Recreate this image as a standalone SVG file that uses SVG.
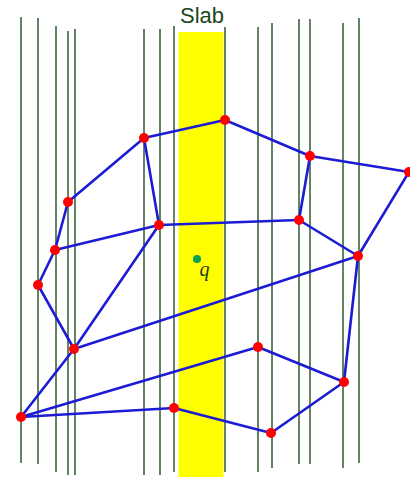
<svg xmlns="http://www.w3.org/2000/svg" width="410" height="477" viewBox="0 0 410 477">
<style>
.v{stroke:#2f5a2f;stroke-width:1.5}
.e{stroke:#1c1cd4;stroke-width:2.6;stroke-linecap:round}
.p{fill:#ff0000}
</style>
<rect width="410" height="477" fill="#ffffff"/>
<rect id="slab" x="178.5" y="32" width="45" height="445" fill="#ffff00"/>
<text x="180" y="23" font-family="Liberation Sans, Arial, sans-serif" font-size="22" fill="#1a461a">Slab</text>
<g id="lines">
<line class="v" x1="21" y1="17" x2="21" y2="463"/>
<line class="v" x1="38" y1="18" x2="38" y2="464"/>
<line class="v" x1="56" y1="26" x2="56" y2="472"/>
<line class="v" x1="68" y1="31" x2="68" y2="475"/>
<line class="v" x1="75" y1="29" x2="75" y2="475"/>
<line class="v" x1="144" y1="29" x2="144" y2="475"/>
<line class="v" x1="160" y1="29" x2="160" y2="475"/>
<line class="v" x1="174" y1="26" x2="174" y2="472"/>
<line class="v" x1="225" y1="27" x2="225" y2="472"/>
<line class="v" x1="258" y1="27" x2="258" y2="472"/>
<line class="v" x1="272" y1="23" x2="272" y2="468"/>
<line class="v" x1="299" y1="19" x2="299" y2="464"/>
<line class="v" x1="310" y1="19" x2="310" y2="464"/>
<line class="v" x1="343" y1="23" x2="343" y2="468"/>
<line class="v" x1="359" y1="18" x2="359" y2="463"/>
</g>
<g id="connectors">
<line class="e" x1="144" y1="138" x2="225" y2="120"/>
<line class="e" x1="225" y1="120" x2="310" y2="156"/>
<line class="e" x1="310" y1="156" x2="409" y2="172"/>
<line class="e" x1="144" y1="138" x2="68" y2="202"/>
<line class="e" x1="144" y1="138" x2="159" y2="225"/>
<line class="e" x1="310" y1="156" x2="299" y2="220"/>
<line class="e" x1="159" y1="225" x2="299" y2="220"/>
<line class="e" x1="409" y1="172" x2="358" y2="256"/>
<line class="e" x1="299" y1="220" x2="358" y2="256"/>
<line class="e" x1="68" y1="202" x2="55" y2="250"/>
<line class="e" x1="159" y1="225" x2="55" y2="250"/>
<line class="e" x1="55" y1="250" x2="38" y2="285"/>
<line class="e" x1="38" y1="285" x2="74" y2="349"/>
<line class="e" x1="159" y1="225" x2="74" y2="349"/>
<line class="e" x1="74" y1="349" x2="358" y2="256"/>
<line class="e" x1="74" y1="349" x2="21" y2="417"/>
<line class="e" x1="21" y1="417" x2="258" y2="347"/>
<line class="e" x1="21" y1="417" x2="174" y2="408"/>
<line class="e" x1="258" y1="347" x2="344" y2="382"/>
<line class="e" x1="358" y1="256" x2="344" y2="382"/>
<line class="e" x1="174" y1="408" x2="271" y2="433"/>
<line class="e" x1="271" y1="433" x2="344" y2="382"/>
</g>
<g id="nA"><circle class="p" cx="144" cy="138" r="5"/></g>
<g id="nB"><circle class="p" cx="225" cy="120" r="5"/></g>
<g id="nC"><circle class="p" cx="310" cy="156" r="5"/></g>
<g id="nD"><circle class="p" cx="409" cy="172" r="5"/></g>
<g id="nE"><circle class="p" cx="68" cy="202" r="5"/></g>
<g id="nF"><circle class="p" cx="159" cy="225" r="5"/></g>
<g id="nG"><circle class="p" cx="299" cy="220" r="5"/></g>
<g id="nH"><circle class="p" cx="55" cy="250" r="5"/></g>
<g id="nI"><circle class="p" cx="38" cy="285" r="5"/></g>
<g id="nJ"><circle class="p" cx="74" cy="349" r="5"/></g>
<g id="nK"><circle class="p" cx="358" cy="256" r="5"/></g>
<g id="nL"><circle class="p" cx="21" cy="417" r="5"/></g>
<g id="nM"><circle class="p" cx="174" cy="408" r="5"/></g>
<g id="nN"><circle class="p" cx="258" cy="347" r="5"/></g>
<g id="nO"><circle class="p" cx="344" cy="382" r="5"/></g>
<g id="nP"><circle class="p" cx="271" cy="433" r="5"/></g>
<g id="q">
<circle cx="197" cy="259" r="4" fill="#0ba352"/>
<text x="199.5" y="276" font-family="Liberation Serif, 'Times New Roman', serif" font-style="italic" font-size="20" fill="#1a3d1a">q</text>
</g>
</svg>
